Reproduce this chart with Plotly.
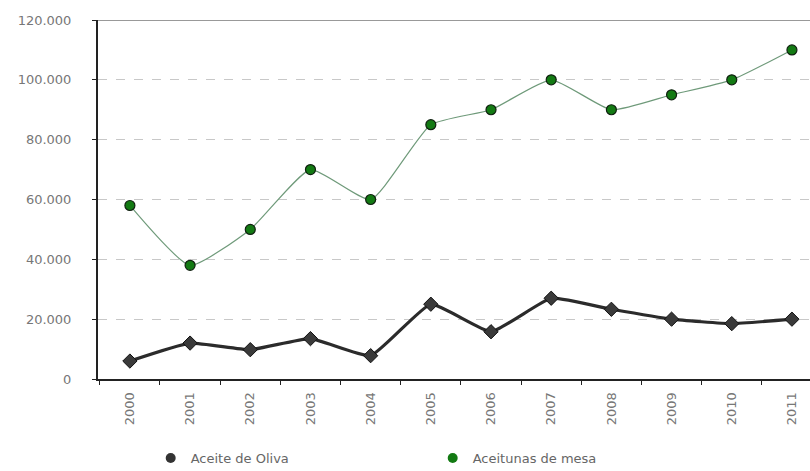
import plotly.graph_objects as go

years = ["2000", "2001", "2002", "2003", "2004", "2005", "2006", "2007", "2008", "2009", "2010", "2011"]
aceite = [6000, 12000, 9800, 13500, 7800, 25000, 15800, 27000, 23300, 20000, 18500, 20000]
aceitunas = [58000, 38000, 50000, 70000, 60000, 85000, 90000, 100000, 90000, 95000, 100000, 110000]
yticks = [0, 20000, 40000, 60000, 80000, 100000, 120000]

xi = list(range(len(years)))

fig = go.Figure()
fig.add_trace(go.Scatter(
    x=xi, y=aceitunas, mode="lines+markers", name="Aceitunas de mesa",
    line=dict(color="#6f9a7a", width=1.2, shape="spline", smoothing=0.5),
    marker=dict(symbol="circle", size=10, color="#137a13", line=dict(color="#102010", width=1.2)),
    showlegend=False))
fig.add_trace(go.Scatter(
    x=xi, y=aceite, mode="lines+markers", name="Aceite de Oliva",
    line=dict(color="#2b2b2b", width=3.2, shape="spline", smoothing=0.4),
    marker=dict(symbol="diamond", size=11, color="#3a3a3a", line=dict(color="#111111", width=1)),
    showlegend=False))
# legend entries
fig.add_trace(go.Scatter(x=[None], y=[None], mode="markers", name="Aceite de Oliva",
                         marker=dict(symbol="circle", size=10, color="#333333")))
fig.add_trace(go.Scatter(x=[None], y=[None], mode="markers", name="Aceitunas de mesa",
                         marker=dict(symbol="circle", size=10, color="#137a13")))

fig.add_shape(type="line", xref="paper", yref="y", x0=0, x1=1, y0=120000, y1=120000,
              line=dict(color="#999999", width=2))

fig.update_layout(
    width=810, height=471,
    margin=dict(l=98, r=0, t=20, b=92, autoexpand=False),
    paper_bgcolor="white", plot_bgcolor="white",
    separators=",.",
    font=dict(family="DejaVu Sans, Arial, sans-serif", size=13, color="#777777"),
    legend=dict(orientation="h", x=0.074, y=-0.22, xanchor="left", yanchor="middle",
                entrywidth=237, entrywidthmode="pixels",
                font=dict(size=13, color="#666666")),
    xaxis=dict(
        range=[-0.53, 11.3], tickmode="array", tickvals=xi, ticktext=years,
        tickangle=-90, showgrid=False, zeroline=False,
        showline=True, linecolor="#222222", linewidth=2,
        ticks="", tickfont=dict(size=13, color="#777777"), ticklabelstandoff=6,
    ),
    yaxis=dict(
        range=[0, 120000], tickmode="array", tickvals=yticks,
        tickformat=",d", showgrid=True, gridcolor="#c8c8c8", griddash="dash", gridwidth=1,
        zeroline=False, showline=True, linecolor="#222222", linewidth=2,
        ticks="outside", ticklen=4, tickcolor="#222222",
        tickfont=dict(size=13, color="#777777"), ticklabelstandoff=18,
    ),
)
# minor ticks between categories on x axis
fig.update_xaxes(minor=dict(tickmode="array", tickvals=[i + 0.5 for i in xi[:-1]] + [-0.5],
                            ticks="outside", ticklen=4, tickcolor="#222222", showgrid=False))

fig.write_html("out.html")
